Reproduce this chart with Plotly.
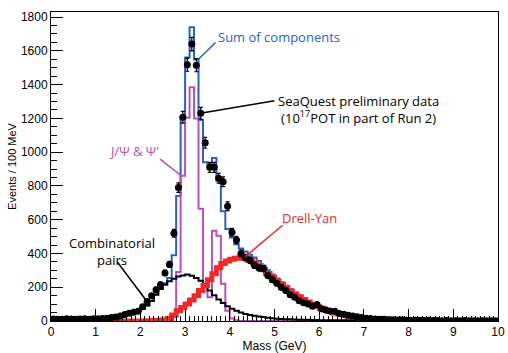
import plotly.graph_objects as go

# bin lower edges, 100 MeV bins from 0 to 10 GeV
edges = [round(i * 0.1, 1) for i in range(101)]
centers = [round(i * 0.1 + 0.05, 2) for i in range(100)]

# Sum of components (blue)
sum_comp = [8, 8, 8, 9, 9, 9, 10, 10, 11, 11,
             12, 13, 15, 17, 20, 25, 31, 38, 47, 58,
             72, 93, 120, 158, 195, 223, 255, 390, 741, 1208,
             1560, 1740, 1550, 1190, 940, 930, 965, 830, 650, 545,
             495, 455, 430, 412, 392, 376, 355, 328, 301, 276,
             252, 230, 209, 188, 169, 151, 134, 119, 104, 92,
             80, 70, 61, 52, 45, 39, 34, 28, 24, 21,
             18, 16, 14, 12, 10, 9, 8, 7, 6, 6,
             5, 5, 5, 4, 4, 3, 3, 3, 2, 2,
             2, 2, 2, 2, 2, 2, 2, 2, 2, 2]

# J/psi & psi' (magenta)
jpsi = [0] * 27 + [25, 290, 860,
                   1204, 1385, 1200, 665, 216, 140, 535, 505, 220, 60,
                   15, 4] + [0] * 58

# Combinatorial pairs (black)
comb = [8, 8, 8, 9, 9, 9, 10, 10, 11, 11,
        12, 13, 15, 17, 20, 25, 31, 38, 47, 58,
        72, 92, 118, 155, 190, 215, 235, 250, 263, 270,
        275, 268, 255, 238, 208, 180, 152, 128, 106, 88,
        72, 60, 50, 42, 36, 31, 27, 23, 19, 16,
        14, 12, 11, 10, 9, 8, 7, 7, 6, 6,
        5, 5, 5, 4, 4, 4, 4, 3, 3, 3,
        3, 3, 3, 3, 2, 2, 2, 2, 2, 2,
        2, 2, 2, 2, 2, 1, 1, 1, 1, 1,
        1, 1, 1, 1, 1, 1, 1, 1, 1, 1]

# Drell-Yan (red)
dy = [0] * 20 + [0, 1, 2, 3, 5, 8, 15, 35, 60, 80,
                 100, 125, 150, 180, 210, 245, 280, 315, 340, 355,
                 365, 372, 375, 370, 360, 345, 328, 305, 282, 260,
                 238, 218, 198, 178, 160, 143, 127, 112, 98, 86,
                 75, 65, 56, 48, 41, 35, 30, 25, 21, 18,
                 15, 13, 11, 9, 8, 7, 6, 5, 4, 4,
                 3, 3, 3, 2, 2, 2, 2, 2, 1, 1,
                 1, 1, 1, 1, 1, 1, 1, 1, 1, 1]

# SeaQuest preliminary data
data = [12, 10, 11, 13, 12, 10, 12, 14, 11, 13,
        14, 15, 17, 20, 24, 30, 38, 46, 52, 58,
        85, 115, 150, 185, 215, 285, 335, 520, 790, 1207,
        1518, 1640, 1515, 1230, 1055, 910, 910, 845, 825, 680,
        525, 480, 400, 375, 360, 330, 315, 310, 270, 245,
        224, 200, 180, 156, 140, 120, 108, 100, 88, 97,
        72, 65, 58, 58, 45, 40, 34, 30, 25, 20,
        17, 15, 12, 10, 11, 8, 7, 6, 7, 5,
        5, 4, 4, 3, 4, 3, 3, 2, 3, 2,
        2, 2, 3, 2, 1, 2, 2, 1, 2, 1]
data_err = [4] * 10 + [4, 4, 4, 5, 5, 6, 6, 7, 7, 8,
                       9, 10, 12, 14, 15, 16, 18, 23, 28, 35,
                       39, 40, 39, 35, 32, 30, 30, 29, 29, 26,
                       23, 22, 20, 19, 19, 18, 18, 18, 16, 16,
                       15, 14, 13, 12, 12, 11, 10, 10, 9, 10,
                       8, 8, 8, 8, 7, 6, 6, 5, 5, 4,
                       4, 4, 3, 3, 3, 3, 3, 2, 3, 2,
                       2, 2, 2, 2, 2, 2, 2, 1, 2, 1,
                       1, 1, 2, 1, 1, 1, 1, 1, 1, 1]

BLUE = "#2d5fbf"
MAGENTA = "#b84fba"
RED = "#f02828"
BLACK = "#000000"


def step(vals):
    return edges, list(vals) + [vals[-1]]


fig = go.Figure()
for vals, col, w in [(sum_comp, BLUE, 2), (jpsi, MAGENTA, 2), (comb, BLACK, 2), (dy, RED, 5)]:
    xs, ys = step(vals)
    fig.add_trace(go.Scatter(x=xs, y=ys, mode="lines", line=dict(shape="hv", color=col, width=w),
                             showlegend=False, hoverinfo="skip"))

fig.add_trace(go.Scatter(x=centers, y=data, mode="markers",
                         marker=dict(color="black", size=7),
                         error_y=dict(type="data", array=data_err, color="black", thickness=1.2, width=2),
                         showlegend=False))

ann_font = "Open Sans, DejaVu Sans, sans-serif"
annotations = [
    dict(x=3.70, y=1684, text="Sum of components", xanchor="left", font=dict(color=BLUE, size=13, family=ann_font)),
    dict(x=6.87, y=1255, text="SeaQuest preliminary data<br>(10<sup>17</sup>POT in part of Run 2)",
         xanchor="center", align="center", font=dict(color="black", size=13, family=ann_font)),
    dict(x=1.85, y=1006, text="J/Ψ &amp; Ψ'", xanchor="center", font=dict(color=MAGENTA, size=13, family=ann_font)),
    dict(x=1.37, y=409, text="Combinatorial<br>pairs", xanchor="center", align="center",
         font=dict(color="black", size=13, family=ann_font)),
    dict(x=5.79, y=608, text="Drell-Yan", xanchor="center", font=dict(color=RED, size=13, family=ann_font)),
]
for a in annotations:
    a.update(xref="x", yref="y", showarrow=False)
fig.update_layout(annotations=annotations)

pointer_lines = [
    (3.68, 1649, 3.30, 1550, BLUE),
    (5.00, 1304, 3.41, 1234, BLACK),
    (2.44, 959, 2.89, 865, MAGENTA),
    (1.48, 351, 2.11, 129, BLACK),
    (5.18, 567, 4.34, 380, RED),
]
for x0, y0, x1, y1, c in pointer_lines:
    fig.add_shape(type="line", xref="x", yref="y", x0=x0, y0=y0, x1=x1, y1=y1,
                  line=dict(color=c, width=1.5))

axis_font = dict(family="Liberation Sans, Arial, sans-serif", size=12, color="black")
fig.update_xaxes(range=[0, 10], dtick=1, tick0=0, ticks="inside", ticklen=12, tickwidth=1, tickcolor="black",
                 minor=dict(dtick=0.1, ticks="inside", ticklen=5, tickcolor="black"),
                 showline=True, linecolor="black", linewidth=1, mirror=True, showgrid=False, zeroline=False,
                 tickfont=axis_font, ticklabeloverflow="allow",
                 title=dict(text="Mass (GeV)", font=axis_font, standoff=2))
fig.update_yaxes(range=[0, 1830], dtick=200, tick0=0, ticks="inside", ticklen=12, tickwidth=1, tickcolor="black",
                 minor=dict(dtick=50, ticks="inside", ticklen=6, tickcolor="black"),
                 showline=True, linecolor="black", linewidth=1, mirror=True, showgrid=False, zeroline=False,
                 tickfont=axis_font,
                 title=dict(text="Events / 100 MeV", font=dict(family="Liberation Sans, Arial, sans-serif", size=11, color="black"), standoff=2))
fig.update_layout(width=508, height=353, margin=dict(l=51, r=3, t=12, b=28),
                  plot_bgcolor="white", paper_bgcolor="white")

fig.write_html("out.html")
